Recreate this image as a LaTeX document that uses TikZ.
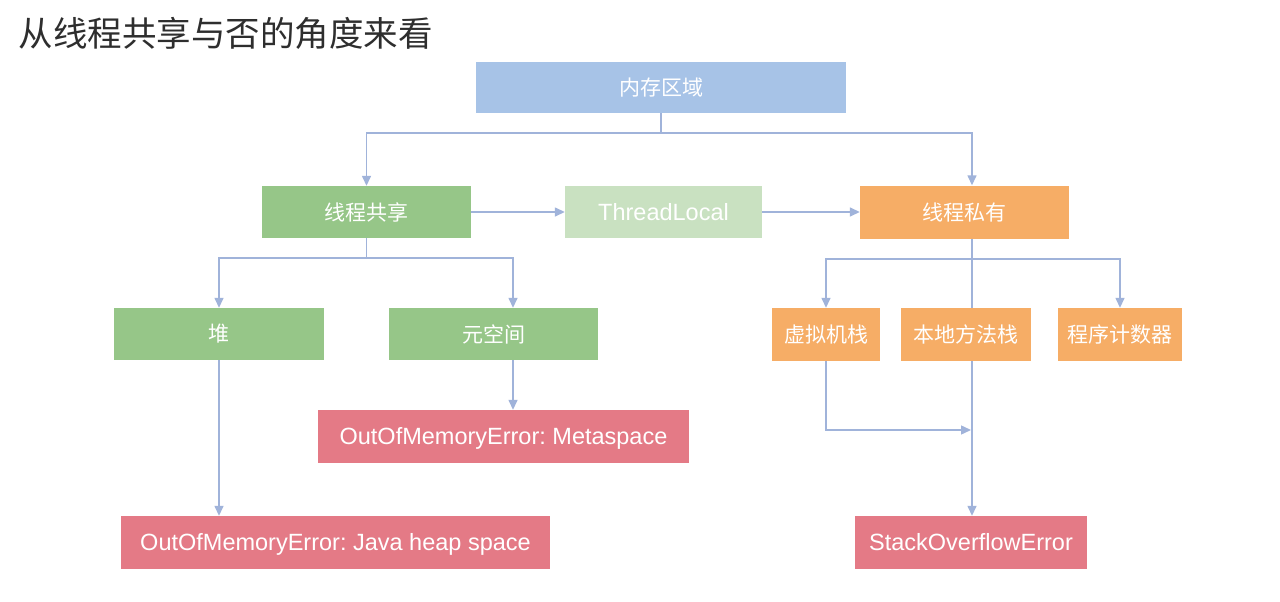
\documentclass[tikz,border=0pt]{standalone}
\usepackage{fontspec}
\setmainfont{Liberation Sans}
\newfontfamily\cjk{Noto Sans CJK SC}
\usetikzlibrary{arrows.meta}
\frenchspacing
\definecolor{memblue}{HTML}{A7C3E7}
\definecolor{sharegreen}{HTML}{96C688}
\definecolor{tlgreen}{HTML}{C9E1C1}
\definecolor{privorange}{HTML}{F6AD66}
\definecolor{errred}{HTML}{E47A86}
\definecolor{linec}{HTML}{A0B3DA}
\definecolor{titlegray}{HTML}{2E2E2E}
\tikzset{
  box/.style={draw=none, rectangle, inner sep=0pt, text=white},
  cjkbox/.style={box, font=\cjk\fontsize{21}{24}\selectfont},
  latbox/.style={box, font=\fontsize{23.5}{27}\selectfont, text height=16.5pt, text depth=0pt},
  conn/.style={draw=linec, line width=1.4pt},
  arr/.style={conn, -{Triangle[length=10pt,width=9pt]}},
}
\begin{document}
\begin{tikzpicture}[x=1pt,y=-1pt]
\fill[white] (0,0) rectangle (1280,602);
\useasboundingbox (0,0) rectangle (1280,602);

\node[anchor=west, font=\cjk\fontsize{34.5}{40}\selectfont, text=titlegray] (title) at (15,33) {从线程共享与否的角度来看};

\node[cjkbox, fill=memblue, minimum width=370pt, minimum height=51pt] (mem) at (661,87.5) {内存区域};
\node[cjkbox, fill=sharegreen, minimum width=209pt, minimum height=52pt] (share) at (366.5,212) {线程共享};
\node[latbox, fill=tlgreen, minimum width=197pt, minimum height=52pt] (tl) at (663.5,212) {ThreadLocal};
\node[cjkbox, fill=privorange, minimum width=209pt, minimum height=53pt] (priv) at (964.5,212) {线程私有};
\node[cjkbox, fill=sharegreen, minimum width=210pt, minimum height=52pt] (heap) at (219,334) {堆};
\node[cjkbox, fill=sharegreen, minimum width=209pt, minimum height=52pt] (meta) at (493.5,334) {元空间};
\node[cjkbox, fill=privorange, minimum width=108pt, minimum height=53pt] (vm) at (826,334.5) {虚拟机栈};
\node[cjkbox, fill=privorange, minimum width=130pt, minimum height=53pt] (native) at (966,334.5) {本地方法栈};
\node[cjkbox, fill=privorange, minimum width=124pt, minimum height=53pt] (pc) at (1120,334.5) {程序计数器};
\node[latbox, fill=errred, minimum width=371pt, minimum height=53pt] (oommeta) at (503.5,436.5) {OutOfMemoryError: Metaspace};
\node[latbox, fill=errred, minimum width=429pt, minimum height=53pt] (oomheap) at (335.5,542.5) {OutOfMemoryError: Java heap space};
\node[latbox, fill=errred, minimum width=232pt, minimum height=53pt] (soe) at (971,542.5) {StackOverflowError};

\coordinate (topbar) at (661,133);
\coordinate (pcol) at (972,0);
\coordinate (mcol) at (513,0);
\coordinate (sbar) at (366.5,258);
\coordinate (pbar) at (972,259);
\coordinate (vmjoin) at (971,430);

\draw[conn] (mem.south) -- (topbar);
\draw[arr] (topbar) -| (share.north);
\draw[arr] (topbar) -| (pcol |- priv.north);
\draw[arr] (share.east) -- (tl.west);
\draw[arr] (tl.east) -- (priv.west);

\draw[conn] (share.south) -- (sbar);
\draw[arr] (sbar) -| (heap.north);
\draw[arr] (sbar) -| (mcol |- meta.north);
\draw[arr] (heap.south) -- (heap.south |- oomheap.north);
\draw[arr] (mcol |- meta.south) -- (mcol |- oommeta.north);

\draw[conn] (pcol |- priv.south) -- (pcol |- native.north);
\draw[arr] (pbar) -| (vm.north);
\draw[arr] (pbar) -| (pc.north);
\draw[arr] (pcol |- native.south) -- (pcol |- soe.north);
\draw[arr] (vm.south) |- (vmjoin);
\end{tikzpicture}
\end{document}
